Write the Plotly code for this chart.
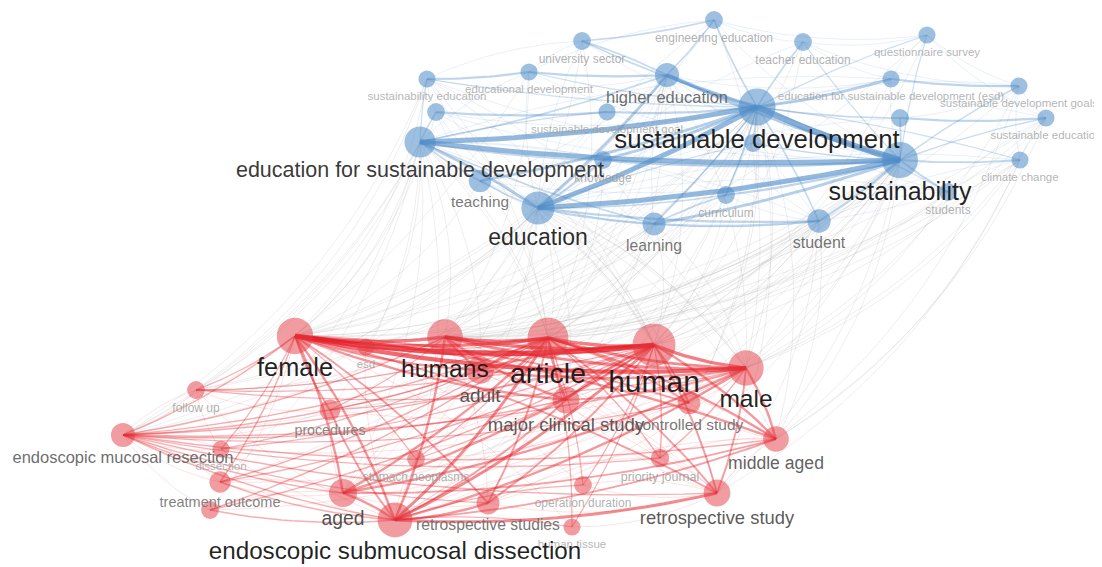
import math
import plotly.graph_objects as go

# ---------------- nodes (map coordinates, weight, cluster) ----------------
node_ids = ["B1", "B2", "B3", "B4", "B5", "B6", "B7", "B8", "B9", "B10",
            "B11", "B12", "B13", "B14", "B15", "B16", "B17", "B18", "B19", "B20",
            "B21", "B22", "B23", "B24", "B25",
            "R1", "R2", "R3", "R4", "R5", "R6", "R7", "R8", "R9", "R10",
            "R11", "R12", "R13", "R14", "R15", "R16", "R17", "R18", "R19", "R20",
            "R21", "R22", "R23", "R24"]
node_labels = ["engineering education", "university sector", "teacher education",
               "questionnaire survey", "educational development", "sustainability education",
               "higher education", "education for sustainable development (esd)",
               "sustainable development goals", "", "sustainable development goal",
               "sustainable development", "sustainable education", "",
               "education for sustainable development", "knowledge", "sustainability",
               "climate change", "", "teaching", "curriculum", "students", "education",
               "learning", "student",
               "female", "esd", "humans", "article", "human", "adult", "male", "follow up",
               "major clinical study", "controlled study", "procedures",
               "endoscopic mucosal resection", "middle aged", "dissection",
               "stomach neoplasms", "priority journal", "treatment outcome", "aged",
               "operation duration", "retrospective study", "", "retrospective studies",
               "endoscopic submucosal dissection", "human tissue"]
node_x = [714, 582, 803, 927, 529, 427, 667, 891, 1019, 436,
          607, 757, 1046, 900, 420, 603, 900, 1020, 753, 480,
          726, 948, 538, 654, 819,
          295, 366, 445, 548, 654, 480, 746, 196, 566, 689,
          330, 123, 776, 221, 416, 660, 220, 343, 583, 717,
          210, 488, 395, 572]
node_y = [20, 41, 42, 35, 72, 79, 75, 79, 86, 112,
          112, 107, 118, 118, 142, 160, 160, 160, 143, 181,
          195, 192, 208, 224, 221,
          336, 347, 337, 338, 345, 370, 368, 390, 400, 403,
          410, 435, 439, 449, 459, 458, 482, 493, 485, 493,
          510, 503, 520, 527]
node_weight = [12, 12, 12, 11.5, 11.5, 11.5, 16.5, 11.5, 11.5, 12,
               11.5, 25.8, 11.5, 12, 21.5, 12, 25, 11.5, 12, 15.3,
               12, 12, 23, 15.7, 16,
               25.3, 11.5, 24.7, 28.5, 30, 19, 24.5, 12, 18.5, 15.5,
               14.2, 16.5, 17.6, 11.5, 12, 12.5, 14.5, 19.3, 12, 18.4,
               12, 15.7, 24.2, 11.5]
node_cluster = [1] * 25 + [2] * 24

# ---------------- links ----------------
blue_links = """
B12 B17 5
B15 B12 4
B15 B17 4
B23 B12 4
B23 B17 4
B7 B12 3
B23 B15 2
B12 B8 2
B16 B12 2
B16 B17 2
B20 B12 2
B24 B17 2
B23 B7 2
B7 B17 2
B25 B17 1.5
B21 B17 1.5
B24 B25 1.5
B23 B24 1.5
B23 B25 1.5
B23 B16 1.5
B6 B5 1.5
B5 B7 1.5
B10 B11 1.5
B11 B12 1.5
B8 B9 1.5
B14 B13 1.5
B17 B18 1.2
B17 B22 1.2
B19 B12 1.2
B21 B24 1
B20 B23 1
B15 B20 1
B15 B7 1
B2 B1 1
B2 B12 1
B1 B12 1
B3 B12 1
B7 B1 1
B7 B2 1
B12 B14 1
B17 B14 1
B15 B24 1
B15 B16 1
B23 B21 1
B25 B12 1
B24 B12 1
B21 B12 1
B9 B17 0.8
B13 B17 0.8
B4 B12 0.6
B4 B17 0.6
B3 B17 0.6
B18 B12 0.6
B22 B12 0.6
B6 B12 0.6
B6 B15 0.6
B10 B15 0.6
B5 B12 0.6
B19 B17 0.6
B19 B23 0.6
B11 B15 0.6
"""
blue_weak = ("B1-B3 B1-B4 B1-B17 B1-B23 B2-B5 B2-B23 B2-B17 B3-B4 B3-B8 B3-B23 "
             "B4-B8 B4-B9 B5-B15 B5-B23 B5-B17 B6-B17 B6-B23 B6-B7 B7-B8 B7-B24 "
             "B7-B25 B8-B17 B8-B23 B8-B15 B9-B12 B9-B13 B10-B12 B10-B17 B10-B23 "
             "B11-B17 B11-B23 B13-B12 B13-B18 B14-B23 B14-B9 B16-B24 B16-B20 "
             "B18-B23 B18-B25 B18-B22 B19-B24 B19-B21 B20-B24 B20-B17 B21-B25 "
             "B21-B15 B22-B23 B22-B25 B24-B22 B25-B15 B25-B7 B20-B7 B16-B7 "
             "B1-B5 B2-B6 B3-B9 B4-B13 B9-B18 B13-B22 B12-B22 B6-B10 B10-B20")

red_links = """
R1 R5 5
R1 R7 4
R1 R3 3
R1 R4 3
R3 R4 3
R4 R5 3
R5 R7 3
R3 R5 3
R4 R7 2.5
R3 R7 2.5
R23 R4 2.5
R23 R5 2.5
R23 R20 2.5
R1 R6 2
R3 R6 2
R4 R6 2
R5 R6 2
R6 R7 2
R4 R9 2
R5 R9 2
R1 R9 2
R3 R9 2
R23 R1 2
R23 R3 2
R23 R7 2
R23 R18 2
R23 R22 2
R18 R1 2
R18 R5 2
R18 R4 2
R18 R7 2
R13 R5 2
R13 R7 2
R13 R1 2
R13 R4 2
R18 R13 1.5
R20 R5 1.5
R20 R4 1.5
R20 R7 1.5
R20 R1 1.5
R1 R11 1.5
R11 R23 1.5
R10 R5 1.5
R10 R4 1.5
R10 R1 1.5
R22 R4 1.5
R22 R5 1.5
R22 R1 1.5
R23 R13 1.5
R9 R7 1.5
R23 R9 1.5
R12 R1 1
R12 R3 1
R12 R4 1
R12 R5 1
R12 R7 1
R12 R9 1
R12 R18 1
R12 R23 1
R12 R13 1
R12 R20 1
R12 R6 1
R12 R10 0.8
R12 R22 0.8
R12 R16 0.8
R16 R5 1
R16 R4 1
R16 R7 1
R17 R4 1
R17 R5 1
R17 R1 1
R17 R23 1
R21 R23 1
R21 R4 1
R21 R5 1
R14 R4 0.8
R14 R1 0.8
R14 R5 0.8
R8 R1 0.8
R8 R4 0.8
R8 R5 0.8
R8 R7 0.8
R2 R4 0.8
R2 R1 0.8
R2 R5 0.8
R15 R4 0.8
R15 R1 0.8
R15 R5 0.8
R19 R4 0.8
R19 R23 0.8
R19 R5 0.8
R24 R4 0.8
R24 R5 0.8
R24 R23 0.8
R11 R4 0.8
R11 R5 0.8
R11 R3 0.8
"""
red_weak = ("R6-R9 R6-R23 R6-R18 R9-R18 R9-R20 R9-R22 R10-R7 R10-R13 R10-R23 "
            "R11-R18 R13-R20 R13-R3 R16-R23 R16-R1 R17-R18 R17-R12 R14-R23 R14-R12 "
            "R8-R23 R8-R12 R15-R23 R19-R20 R19-R1 R22-R20 R22-R7 R24-R20 R24-R1 "
            "R2-R23 R21-R1 R20-R3 R20-R6 R22-R3 R18-R3 R10-R3 R17-R7 R21-R7 R14-R7 "
            "R8-R3 R11-R7 R15-R7 R16-R3 R12-R8 R12-R14 R12-R17 R12-R21 R12-R11 "
            "R13-R16 R13-R22 R20-R16 R20-R19 R18-R22 R18-R17 R18-R21 R8-R11 R8-R14")

cross_links = {
    "R1": "B12 B17 B23 B15 B7 B24 B25 B20 B6 B10 B16 B18 B1 B4 B13 B21",
    "R3": "B12 B17 B23 B15 B7 B24 B25 B21 B5 B9 B2 B22 B18",
    "R4": "B12 B17 B23 B15 B7 B24 B25 B20 B2 B13 B22 B18 B3 B6 B16",
    "R5": "B12 B17 B23 B15 B7 B24 B25 B21 B4 B8 B3 B13 B6 B10 B20",
    "R7": "B12 B17 B23 B15 B24 B25 B18 B13 B9 B22 B1 B6 B7 B20",
    "R6": "B12 B17 B23 B15 B25 B7",
    "R9": "B12 B17 B23 B7 B15 B25",
    "R12": "B12 B15 B23 B6 B17 B7 B5 B10",
    "R8": "B15 B12 B17 B6 B23",
    "R11": "B12 B23 B17 B15",
    "R18": "B12 B17 B23 B15 B25",
    "R23": "B12 B17 B23 B15 B7 B24",
    "R13": "B17 B12 B25 B18 B13 B9 B23",
    "R20": "B17 B12 B23 B25 B18",
    "R2": "B12 B17 B15",
    "R10": "B12 B17 B23",
    "R16": "B17 B12",
    "R22": "B12 B17",
    "R17": "B15 B12",
    "R14": "B15",
}

# ---------------- build ----------------
idx = {nid: i for i, nid in enumerate(node_ids)}


def radius(w):
    return 0.7 * w + 0.5


def parse_strong(text):
    out = []
    for line in text.strip().splitlines():
        a, b, s = line.split()
        out.append((a, b, float(s)))
    return out


def parse_weak(text, s):
    return [(p.split("-")[0], p.split("-")[1], s) for p in text.split()]


def curve(a, b, bend):
    x0, y0 = node_x[idx[a]], node_y[idx[a]]
    x2, y2 = node_x[idx[b]], node_y[idx[b]]
    dx, dy = x2 - x0, y2 - y0
    ln = math.hypot(dx, dy) or 1.0
    cx = (x0 + x2) / 2 - dy / ln * bend * ln
    cy = (y0 + y2) / 2 + dx / ln * bend * ln
    xs, ys = [], []
    n = 18
    for k in range(n + 1):
        t = k / n
        xs.append((1 - t) ** 2 * x0 + 2 * (1 - t) * t * cx + t * t * x2)
        ys.append((1 - t) ** 2 * y0 + 2 * (1 - t) * t * cy + t * t * y2)
    return xs, ys


fig = go.Figure()


def add_edges(edges, color_fn, width_fn, bend):
    groups = {}
    for a, b, s in edges:
        groups.setdefault(s, []).append((a, b))
    for s in sorted(groups):
        for a, b in groups[s]:
            xs, ys = curve(a, b, bend)
            fig.add_trace(go.Scatter(x=xs, y=ys, mode="lines",
                                     line=dict(color=color_fn(s), width=width_fn(s)),
                                     hoverinfo="skip", showlegend=False))


cross = []
for r, bl in cross_links.items():
    for b in bl.split():
        cross.append((r, b, 0.3))

add_edges(cross, lambda s: "rgba(150,150,150,0.24)", lambda s: 0.7, 0.16)
add_edges(parse_weak(blue_weak, 0.4), lambda s: "rgba(110,160,210,0.22)", lambda s: 0.7, 0.1)
add_edges(parse_weak(red_weak, 0.4), lambda s: "rgba(235,70,80,0.22)", lambda s: 0.7, 0.12)
add_edges(parse_strong(blue_links),
          lambda s: "rgba(80,140,200,%.2f)" % min(0.7, 0.22 + 0.1 * s),
          lambda s: 0.6 + 1.1 * s, 0.04)
add_edges(parse_strong(red_links),
          lambda s: "rgba(230,30,40,%.2f)" % min(0.8, 0.26 + 0.1 * s),
          lambda s: 0.5 + 0.95 * s, 0.07)

# nodes
cluster_color = {1: "rgba(80,140,200,0.8)", 2: "rgba(228,60,68,0.72)"}
fig.add_trace(go.Scatter(
    x=node_x, y=node_y, mode="markers",
    marker=dict(size=[2 * radius(w) for w in node_weight],
                color=[cluster_color[c] for c in node_cluster],
                line=dict(width=0)),
    text=node_labels, hoverinfo="text", showlegend=False))

# labels (small first so big labels sit on top)
order = sorted([i for i in range(len(node_ids)) if node_labels[i]],
               key=lambda i: node_weight[i])


def label_color(w):
    g = max(20, int(150 - (w - 12) * 11))
    a = 0.75 if w < 14 else 0.95
    return "rgba(%d,%d,%d,%.2f)" % (g, g, g, a)


fig.add_trace(go.Scatter(
    x=[node_x[i] for i in order],
    y=[node_y[i] + radius(node_weight[i]) + 0.45 * node_weight[i] + 4.5 for i in order],
    mode="text",
    text=[node_labels[i] for i in order],
    textposition="middle center",
    textfont=dict(size=[node_weight[i] for i in order],
                  color=[label_color(node_weight[i]) for i in order],
                  family="Liberation Sans, Arial, sans-serif"),
    hoverinfo="skip", showlegend=False))

# the page body adds an 8px offset; shift the visible window to compensate
PAGE_OFFSET = 8
fig.update_layout(
    width=1102, height=567,
    margin=dict(l=0, r=0, t=0, b=0),
    paper_bgcolor="white", plot_bgcolor="white",
    xaxis=dict(range=[PAGE_OFFSET, 1102 + PAGE_OFFSET], visible=False, fixedrange=True),
    yaxis=dict(range=[567 + PAGE_OFFSET, PAGE_OFFSET], visible=False, fixedrange=True),
    showlegend=False,
)

fig.write_html("out.html")
